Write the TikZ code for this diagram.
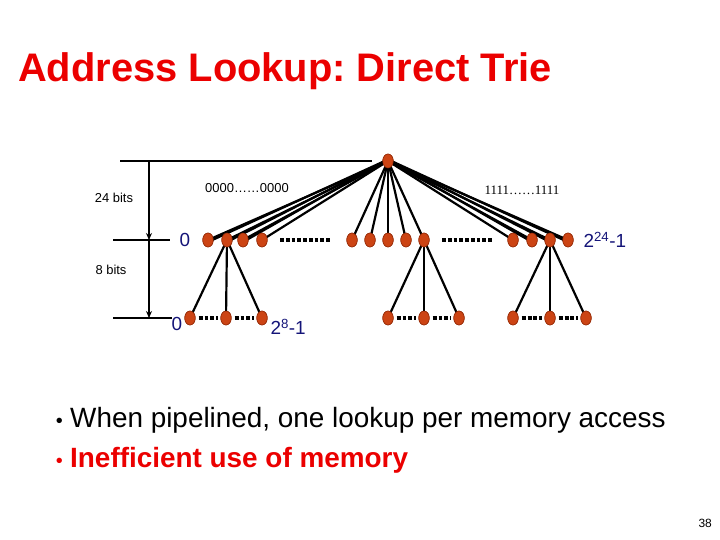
\documentclass[tikz,border=0pt]{standalone}
\usepackage{fontspec}
\setmainfont{Liberation Sans}
\newfontfamily\seriffont{Liberation Serif}
\usetikzlibrary{arrows.meta,shapes.geometric}
\frenchspacing
\definecolor{nodefill}{RGB}{204,68,20}
\definecolor{nodeedge}{RGB}{150,45,10}
\definecolor{titlered}{RGB}{235,0,0}
\definecolor{labelblue}{RGB}{20,20,120}
\tikzset{
  tnode/.style={ellipse, draw=nodeedge, fill=nodefill, line width=0.6pt, minimum width=10.5pt, minimum height=14pt, inner sep=0pt},
  edge/.style={line width=2.2pt, black},
  bigdots/.style={line width=3.5pt, dash pattern=on 3.8pt off 2pt},
  smalldots/.style={line width=4pt, dash pattern=on 4pt off 2pt},
  meas/.style={line width=1.6pt},
  blab/.style={text=labelblue, font=\fontsize{19}{22}\selectfont},
}
\begin{document}
\begin{tikzpicture}[x=1bp,y=-1bp]
\useasboundingbox (0,0) rectangle (720,540);
% title
\node[anchor=base west, inner sep=0pt, text=titlered, font=\fontsize{40}{46}\selectfont\bfseries] (title) at (18,82) {Address Lookup: Direct Trie};
% root
\node[tnode] (r) at (388,161) {};
% level 1
\foreach \n/\x in {a1/208,a2/227,a3/243,a4/262,b1/352,b2/370,b3/388,b4/406,b5/424,c1/513,c2/532,c3/550,c4/568}{
  \node[tnode] (\n) at (\x,240) {};
}
\foreach \n in {a1,a2,a3,a4,b1,b2,b3,b4,b5,c1,c2,c3,c4}{
  \draw[edge] (r.center) -- (\n.center);
}
% extra fan lines
\foreach \n in {a1,a2,a3,c2,c3,c4}{
  \draw[edge] ([yshift=1.5bp]r.center) -- ([yshift=-2bp]\n.center);
}
\coordinate (d1s) at (280,240); \coordinate (d1e) at (332,240);
\coordinate (d2s) at (442,240); \coordinate (d2e) at (493,240);
\draw[bigdots] (d1s) -- (d1e);
\draw[bigdots] (d2s) -- (d2e);
% level 2
\foreach \p/\l/\m/\rr/\xl/\xm/\xr in {a2/p1/p2/p3/190/226/262, b5/q1/q2/q3/388/424/459, c3/s1/s2/s3/513/550/586}{
  \node[tnode] (\l) at (\xl,318) {};
  \node[tnode] (\m) at (\xm,318) {};
  \node[tnode] (\rr) at (\xr,318) {};
  \draw[edge] (\p.center) -- (\l.center);
  \draw[edge] (\p.center) -- (\m.center);
  \draw[edge] (\p.center) -- (\rr.center);
  \draw[smalldots] ([xshift=3bp]\l.east) -- ([xshift=-2.5bp]\m.west);
  \draw[smalldots] ([xshift=3bp]\m.east) -- ([xshift=-2.5bp]\rr.west);
}
% redraw nodes on top
\foreach \x in {208,227,243,262,352,370,388,406,424,513,532,550,568}{
  \node[tnode] at (\x,240) {};
}
\node[tnode] at (388,161) {};
\foreach \x in {190,226,262,388,424,459,513,550,586}{
  \node[tnode] at (\x,318) {};
}
% labels
\node[blab, anchor=center] (z1) at (185,240) {0};
\node[blab, anchor=west] (top) at (580,240) {2\textsuperscript{24}-1};
\node[blab, anchor=center] (z2) at (177,324) {0};
\node[blab, anchor=west] (t8) at (267,327) {2\textsuperscript{8}-1};
\node[font=\fontsize{13}{15}\selectfont] (zeros) at (247,188) {0000\ldots\ldots0000};
\node[font=\fontsize{13}{15}\selectfont\seriffont] (ones) at (522,190) {1111\ldots\ldots1111};
% measurement lines
\coordinate (h1a) at (120,161); \coordinate (h1b) at (372,161);
\coordinate (h2a) at (113,240); \coordinate (h2b) at (170,240);
\coordinate (h3a) at (113,318); \coordinate (h3b) at (172,318);
\draw[meas] (h1a) -- (h1b);
\draw[meas] (h2a) -- (h2b);
\draw[meas] (h3a) -- (h3b);
\coordinate (v1) at (149,161); \coordinate (v2) at (149,240); \coordinate (v3) at (149,318);
\draw[meas, -{Stealth[length=7pt,width=6pt]}] (v1) -- (v2);
\draw[meas, -{Stealth[length=7pt,width=6pt]}] (v2) -- (v3);
\node[font=\fontsize{13}{15}\selectfont, anchor=center] (b24) at (114,198) {24 bits};
\node[font=\fontsize{13}{15}\selectfont, anchor=center] (b8) at (111,270) {8 bits};
% bullets
\node[anchor=base west, inner sep=0pt, font=\fontsize{28}{32}\selectfont] (bl1) at (70,427) {When pipelined, one lookup per memory access};
\node[anchor=base east, inner sep=0pt, font=\fontsize{20}{24}\selectfont] (bu1) at (63,427) {\textbullet};
\node[anchor=base west, inner sep=0pt, font=\fontsize{28}{32}\selectfont\bfseries, text=titlered] (bl2) at (70,467) {Inefficient use of memory};
\node[anchor=base east, inner sep=0pt, font=\fontsize{20}{24}\selectfont, text=titlered] (bu2) at (63,467) {\textbullet};
% page number
\node[font=\fontsize{12}{14}\selectfont, anchor=base east, inner sep=0pt] (pg) at (712,527) {38};
\end{tikzpicture}
\end{document}
